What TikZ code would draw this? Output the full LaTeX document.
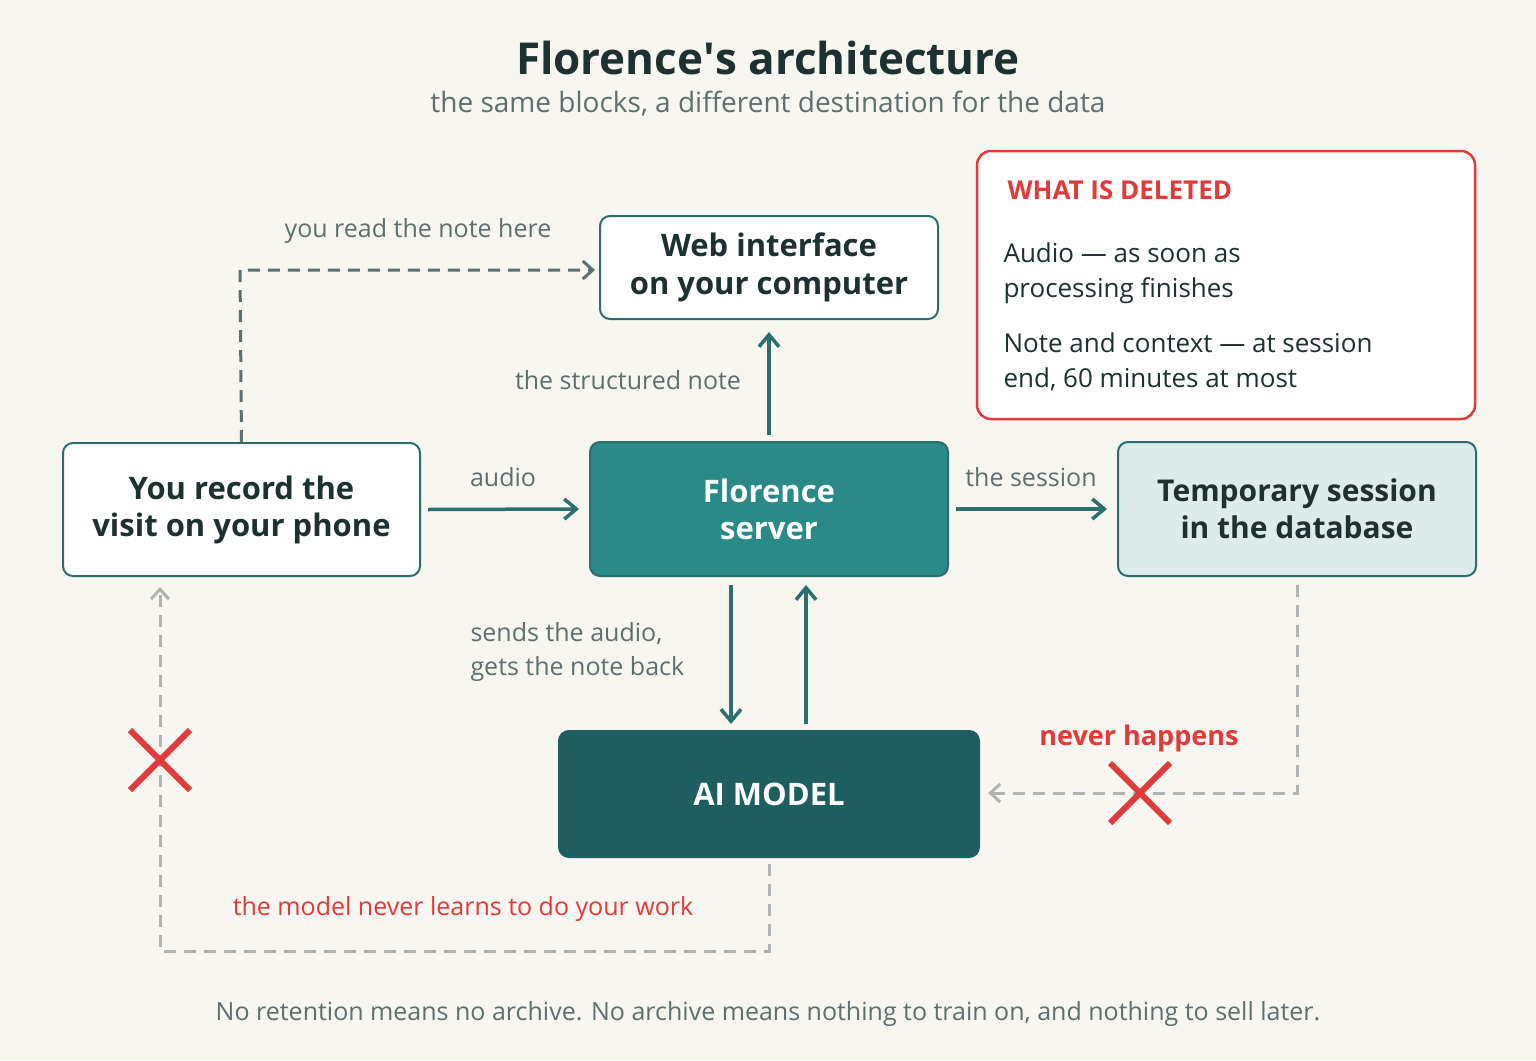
\documentclass[tikz,border=0pt]{standalone}
\usepackage{fontspec}
\setmainfont{Open Sans}
\usetikzlibrary{arrows.meta}
\definecolor{bg}{HTML}{F7F6F1}
\definecolor{teal}{HTML}{2A8A87}
\definecolor{dteal}{HTML}{1E5E60}
\definecolor{edge}{HTML}{2B6E6C}
\definecolor{ink}{HTML}{1F3030}
\definecolor{gr}{HTML}{5F6F6F}
\definecolor{lgr}{HTML}{B3B3B3}
\definecolor{red}{HTML}{E03A3A}
\definecolor{light}{HTML}{DDECEA}
\begin{document}
\begin{tikzpicture}[x=1pt,y=-1pt,
 box/.style={draw=edge,line width=2pt,rounded corners=10pt,align=center,font=\fontsize{31}{37}\selectfont\bfseries,text=ink,anchor=north west},
 lbl/.style={text=gr,font=\fontsize{25}{34}\selectfont},
 flow/.style={draw=edge,line width=3.5pt,-{Straight Barb[length=12pt,width=20pt,line width=3.5pt]}},
 dflow/.style={draw=gr,line width=3pt,dash pattern=on 12pt off 8pt,-{Straight Barb[length=10pt,width=18pt,line width=3pt]}},
 lflow/.style={draw=lgr,line width=3pt,dash pattern=on 12pt off 8pt,-{Straight Barb[length=10pt,width=18pt,line width=3pt]}},
 xmark/.style={draw=red,line width=6pt}]
\fill[bg] (0,0) rectangle (1536,1060);
\useasboundingbox (0,0) rectangle (1536,1060);
\node[font=\fontsize{44}{50}\selectfont\bfseries,text=ink] (title) at (768,58) {Florence\textquotesingle s architecture};
\node[lbl,font=\fontsize{28}{34}\selectfont] (sub) at (768,104) {the same blocks, a different destination for the data};

\node[box,fill=white,minimum width=357pt,minimum height=133pt] (phone) at (62,442) {You record the\\visit on your phone};
\node[box,fill=white,minimum width=338pt,minimum height=103pt,font=\fontsize{31}{38}\selectfont\bfseries] (web) at (599,215) {Web interface\\on your computer};
\node[box,fill=teal,text=white,minimum width=358pt,minimum height=134pt] (srv) at (589,441) {Florence\\server};
\node[box,fill=light,minimum width=358pt,minimum height=134pt,font=\fontsize{30}{37}\selectfont\bfseries] (tmp) at (1117,441) {Temporary session\\in the database};
\node[box,fill=dteal,draw=dteal,text=white,minimum width=420pt,minimum height=126pt] (ai) at (558,730) {AI MODEL};

\draw[red,line width=2.5pt,rounded corners=14pt,fill=white] (977,151) rectangle (1475,419);
\node[anchor=west,text=red,font=\fontsize{26}{30}\selectfont\bfseries] (dh) at (1004,190) {WHAT IS DELETED};
\node[anchor=north west,text=ink,align=left,font=\fontsize{26}{35}\selectfont] (d1) at (1000,239) {Audio — as soon as\\processing finishes};
\node[anchor=north west,text=ink,align=left,font=\fontsize{26}{35}\selectfont] (d2) at (1000,329) {Note and context — at session\\end, 60 minutes at most};

\coordinate (c1) at (240,270);
\draw[dflow] (phone.north) -- (c1) -- ([xshift=-4pt]web.west |- c1);
\node[lbl] (l1) at (418,231) {you read the note here};
\draw[flow] ([yshift=6pt]srv.north) -- ([yshift=-12pt]web.south);
\node[lbl] (l2) at (628,380) {the structured note};
\draw[flow] ([xshift=7pt]phone.east) -- ([xshift=-10pt]srv.west);
\node[lbl] (l3) at (503,477) {audio};
\draw[flow] ([xshift=7pt]srv.east) -- ([xshift=-10pt]tmp.west);
\node[lbl] (l4) at (1031,477) {the session};
\draw[flow] ([xshift=-38pt,yshift=-8pt]srv.south) -- ([xshift=-38pt,yshift=6pt]ai.north);
\draw[flow] ([xshift=37pt,yshift=6pt]ai.north) -- ([xshift=37pt,yshift=-8pt]srv.south);
\node[lbl,anchor=west,align=left] (l5) at (467,652) {sends the audio,\\gets the note back};

\coordinate (c2) at (1297,793);
\draw[lflow] ([yshift=-8pt]tmp.south -| c2) -- (c2) -- ([xshift=8pt]ai.east |- c2);
\node[text=red,font=\fontsize{27}{32}\selectfont\bfseries] (nh) at (1139,738) {never happens};
\draw[xmark] (1110,763) -- (1170,823) (1170,763) -- (1110,823);

\coordinate (c3) at (769,951);
\coordinate (c4) at (160,951);
\draw[lflow] ([yshift=-6pt]ai.south -| c3) -- (c3) -- (c4) -- ([yshift=-10pt]phone.south -| c4);
\draw[xmark] (130,730) -- (190,790) (190,730) -- (130,790);
\node[text=red,font=\fontsize{25}{30}\selectfont] (l6) at (463,909) {the model never learns to do your work};
\node[lbl] (foot) at (768,1014) {No retention means no archive. No archive means nothing to train on, and nothing to sell later.};
\end{tikzpicture}
\end{document}
